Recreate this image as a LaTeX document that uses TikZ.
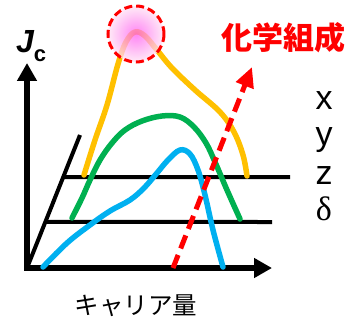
\documentclass[tikz,border=0pt]{standalone}
\usepackage{fontspec}
\setmainfont{Liberation Sans}
\newfontfamily\cjk{Noto Sans CJK JP}
\newfontfamily\serifgreek{Liberation Serif}
\usetikzlibrary{arrows.meta,calc}

\definecolor{curveyellow}{HTML}{FFC000}
\definecolor{curvegreen}{HTML}{00B050}
\definecolor{curveblue}{HTML}{00B0F0}
\definecolor{peakpink}{HTML}{FF5CF0}
\definecolor{peakpale}{HTML}{FFE4F4}

\begin{document}
\begin{tikzpicture}[x=1pt, y=-1pt,
  axis/.style={line width=6.5pt, {Triangle[length=18pt,width=19pt]}-{Triangle[length=18pt,width=19pt]}},
  plane/.style={line width=4pt, black},
  curve/.style={line width=5.5pt, line cap=round},
  trend/.style={line width=5pt, red, dash pattern=on 14pt off 7pt, -{Triangle[length=20pt,width=18pt]}},
  label/.style={inner sep=0pt, anchor=base, font=\fontsize{34}{34}\selectfont}
]
\useasboundingbox (0,0) rectangle (359,321);
% axes
\coordinate (origin) at (27,268);
\coordinate (jtop) at (27,63);
\coordinate (xend) at (272,268);
\coordinate (deep) at (80,135);
\draw[axis] (jtop) |- (xend);
\draw[plane] (origin) -- (deep);
\draw[plane] ($(origin)!0.684!(deep)$) coordinate (p1) -- (290,177);
\draw[plane] ($(origin)!0.346!(deep)$) coordinate (p2) -- (272,222);
% curves
\draw[curve, curveyellow] plot[smooth, tension=0.6] coordinates {
  (84,175) (95,140) (107,105) (118,64) (126,42) (135,32) (145,36)
  (157,50) (172,68) (195,90) (220,112) (234,132) (243,155) (247,176)};
\draw[curve, curvegreen] plot[smooth, tension=0.6] coordinates {
  (72,218) (82,198) (90,180) (100,160) (112,143) (125,130) (142,121)
  (162,116) (180,117) (194,127) (206,143) (215,162) (227,190) (240,219)};
\draw[curve, curveblue] plot[smooth, tension=0.6] coordinates {
  (43,267) (67,243) (90,225) (110,211) (130,200) (144,188) (157,173)
  (168,160) (180,150) (190,154) (198,170) (205,195) (213,230) (223,267)};
% composition trend
\coordinate (trendstart) at (173,268);
\coordinate (trendend) at (252,67);
\draw[trend] (trendstart) -- (trendend);
% highlighted peak
\shade[inner color=peakpink, outer color=peakpale, fill opacity=0.75] (136,34) circle (28);
\draw[red, line width=3pt, dash pattern=on 8pt off 4pt] (136,34) circle (28) node (peak) {};
% labels
\node[inner sep=0pt, anchor=base west] (jc) at (16,53)
  {{\fontsize{32}{32}\selectfont\bfseries\itshape J}\raisebox{-9pt}{\fontsize{22}{22}\selectfont\bfseries c}};
\node[inner sep=0pt, anchor=base west, text=red] (comp) at (221,50)
  {\cjk\bfseries\fontsize{31}{31}\selectfont 化学組成};
\node[inner sep=0pt, anchor=base] (carrier) at (136,314)
  {\cjk\fontsize{24.5}{24.5}\selectfont キャリア量};
\node[label] (lx) at (324,110) {x};
\node[label] (ly) at (324,146) {y};
\node[label] (lz) at (324,184) {z};
\node[label] (ld) at (324,220) {\serifgreek δ};
\end{tikzpicture}
\end{document}
